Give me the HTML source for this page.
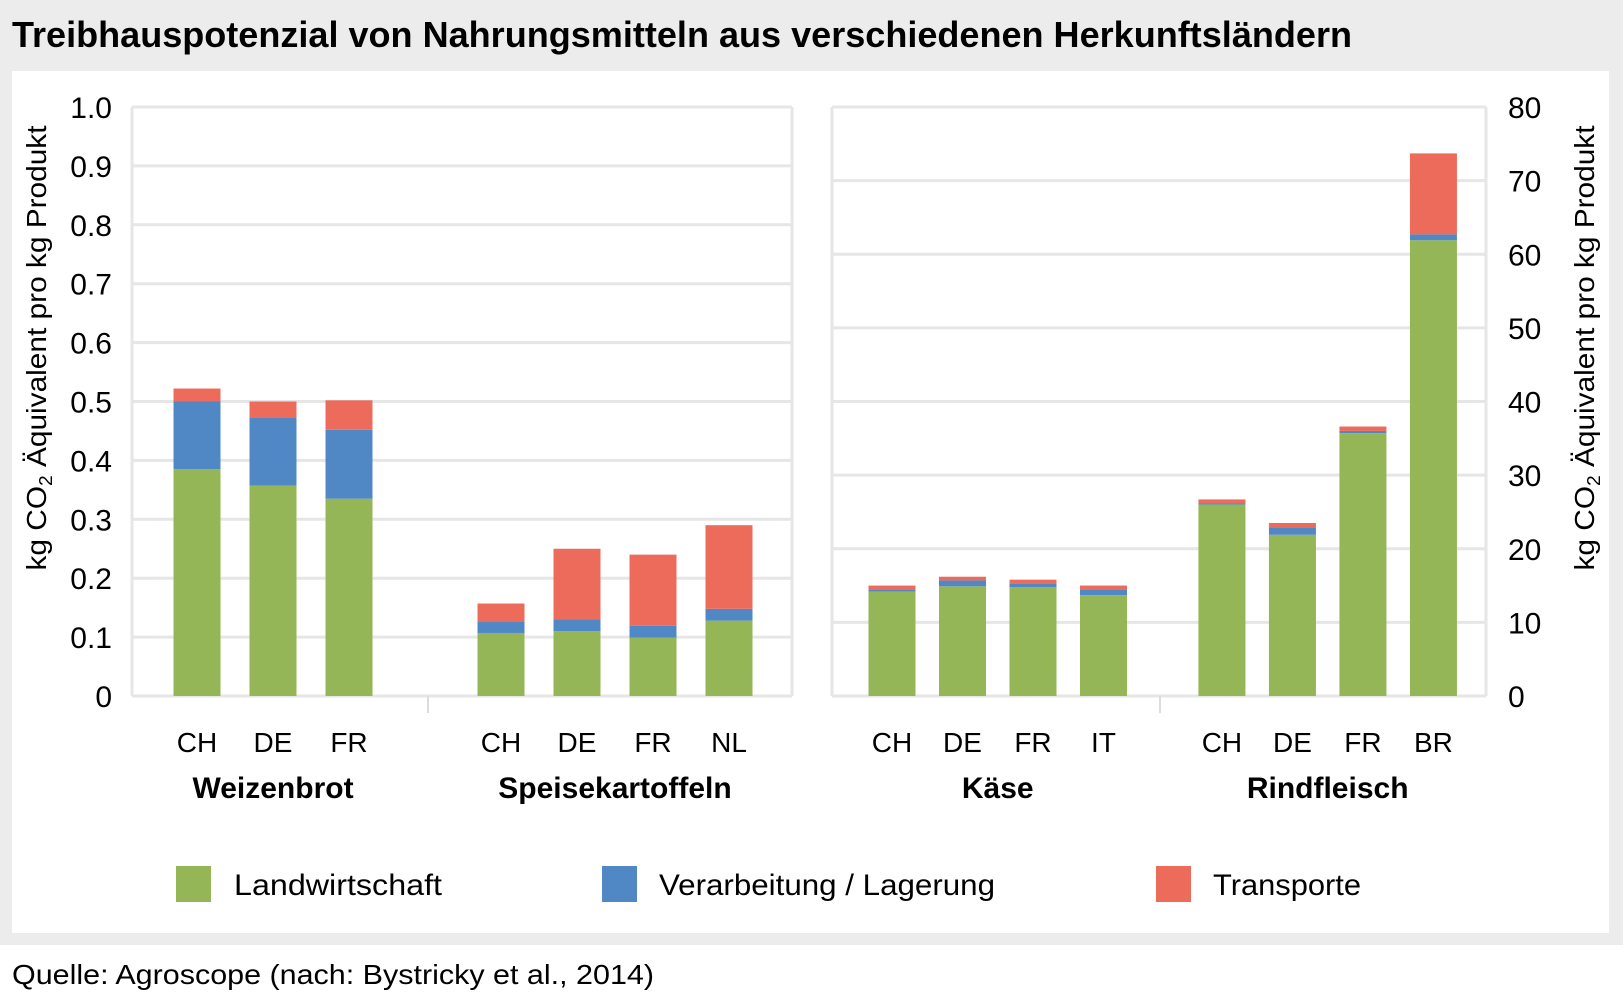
<!DOCTYPE html>
<html><head><meta charset="utf-8"><style>
body{margin:0;background:#fff}
svg{display:block;font-family:"Liberation Sans Narrow","Liberation Sans",sans-serif}
</style></head><body>
<svg id="c" width="1623" height="992" viewBox="0 0 1623 992">
<rect x="0" y="0" width="1623" height="945" fill="#ececec"/>
<rect x="12" y="71" width="1597" height="862" fill="#fff"/>
<text x="12" y="47" font-size="36" font-weight="bold" textLength="1340" lengthAdjust="spacingAndGlyphs">Treibhauspotenzial von Nahrungsmitteln aus verschiedenen Herkunftsländern</text>
<g id="grid"></g>
<g id="bars"></g>
<g id="labels"></g>
<text transform="translate(46,348) rotate(-90)" text-anchor="middle" font-size="28" textLength="445" lengthAdjust="spacingAndGlyphs">kg CO<tspan font-size="18" dy="6">2</tspan><tspan dy="-6"> Äquivalent pro kg Produkt</tspan></text>
<text transform="translate(1594,348) rotate(-90)" text-anchor="middle" font-size="28" textLength="445" lengthAdjust="spacingAndGlyphs">kg CO<tspan font-size="18" dy="6">2</tspan><tspan dy="-6"> Äquivalent pro kg Produkt</tspan></text>
<g>
<rect x="176" y="866" width="35" height="36" fill="#95b656"/>
<text x="234" y="895" font-size="30" textLength="208" lengthAdjust="spacingAndGlyphs">Landwirtschaft</text>
<rect x="602" y="866" width="35" height="36" fill="#5088c6"/>
<text x="659" y="895" font-size="30" textLength="336" lengthAdjust="spacingAndGlyphs">Verarbeitung / Lagerung</text>
<rect x="1156" y="866" width="35" height="36" fill="#ed6b5b"/>
<text x="1213" y="895" font-size="30" textLength="148" lengthAdjust="spacingAndGlyphs">Transporte</text>
</g>
<text x="12" y="984" font-size="28" textLength="642" lengthAdjust="spacingAndGlyphs">Quelle: Agroscope (nach: Bystricky et al., 2014)</text>
</svg>
<script>
const leftCats=["CH","DE","FR","CH","DE","FR","NL"];
const leftLand=[0.385,0.357,0.335,0.107,0.110,0.099,0.128];
const leftVerarb=[0.115,0.115,0.117,0.020,0.020,0.020,0.020];
const leftTrans=[0.022,0.028,0.050,0.030,0.120,0.121,0.142];
const rightCats=["CH","DE","FR","IT","CH","DE","FR","BR"];
const rightLand=[14.2,14.9,14.8,13.7,26.0,21.9,35.7,61.9];
const rightVerarb=[0.2,0.8,0.5,0.7,0.2,1.0,0.3,0.8];
const rightTrans=[0.6,0.5,0.5,0.6,0.5,0.6,0.6,11.0];
const leftTicks=["0","0.1","0.2","0.3","0.4","0.5","0.6","0.7","0.8","0.9","1.0"];
const rightTicks=["0","10","20","30","40","50","60","70","80"];
const groups=["Weizenbrot","Speisekartoffeln","Käse","Rindfleisch"];
const NS="http://www.w3.org/2000/svg";
const Y0=696,YT=107;
const yL=v=>Y0-(v/1.0)*(Y0-YT);
const yR=v=>Y0-(v/80)*(Y0-YT);
const xL=i=>197+(i<3?i:i+1)*76;
const xR=i=>892+(i<4?i:i+0.68)*70.5;
function mk(tag,attrs,parent){const e=document.createElementNS(NS,tag);for(const k in attrs)e.setAttribute(k,attrs[k]);parent.appendChild(e);return e;}
const grid=document.getElementById('grid'),bars=document.getElementById('bars'),labels=document.getElementById('labels');
leftTicks.forEach((t,i)=>{const v=parseFloat(t);
 const l=mk('line',{x1:132,x2:792,y1:yL(v),y2:yL(v),stroke:'#e6e6e6','stroke-width':3},grid);
 
 
 const tx=mk('text',{x:112,y:yL(v)+11,'text-anchor':'end','font-size':30},labels);tx.textContent=t;
 
 
});
mk('line',{x1:132,x2:132,y1:YT,y2:Y0,stroke:'#e6e6e6','stroke-width':3},grid);
mk('line',{x1:792,x2:792,y1:YT,y2:Y0,stroke:'#e6e6e6','stroke-width':3},grid);
mk('line',{x1:428,x2:428,y1:Y0,y2:713,stroke:'#dcdcdc','stroke-width':2},grid);
rightTicks.forEach((t,i)=>{const v=parseFloat(t);
 const l=mk('line',{x1:832,x2:1486,y1:yR(v),y2:yR(v),stroke:'#e6e6e6','stroke-width':3},grid);
 
 
 const tx=mk('text',{x:1508,y:yR(v)+11,'text-anchor':'start','font-size':30},labels);tx.textContent=t;
 
 
});
mk('line',{x1:832,x2:832,y1:YT,y2:Y0,stroke:'#e6e6e6','stroke-width':3},grid);
mk('line',{x1:1486,x2:1486,y1:YT,y2:Y0,stroke:'#e6e6e6','stroke-width':3},grid);
mk('line',{x1:1160,x2:1160,y1:Y0,y2:713,stroke:'#dcdcdc','stroke-width':2},grid);
const cols=['#95b656','#5088c6','#ed6b5b'],names=['landwirtschaft','verarbeitung','transporte'];
function drawStack(x,vals,ys,cat,parentName){let acc=0;
 vals.forEach((v,k)=>{const a=ys(acc),b=ys(acc+v);acc+=v;
  const r=mk('rect',{x:x-23.5,y:b,width:47,height:Math.max(0,a-b),fill:cols[k]},bars);
  
  
 });
 const t=mk('text',{x:x,y:752,'text-anchor':'middle','font-size':28},labels);t.textContent=cat;
 
 
}
leftCats.forEach((c,i)=>drawStack(xL(i),[leftLand[i],leftVerarb[i],leftTrans[i]],yL,c,i<3?'weizenbrot':'speisekartoffeln'));
rightCats.forEach((c,i)=>drawStack(xR(i),[rightLand[i],rightVerarb[i],rightTrans[i]],yR,c,i<4?'kaese':'rindfleisch'));
const gx=[(xL(0)+xL(2))/2,(xL(3)+xL(6))/2,(xR(0)+xR(3))/2,(xR(4)+xR(7))/2];
groups.forEach((g,i)=>{const t=mk('text',{x:gx[i],y:798,'text-anchor':'middle','font-size':30,'font-weight':'bold'},labels);t.textContent=g;
 
 
});
</script>
</body></html>
